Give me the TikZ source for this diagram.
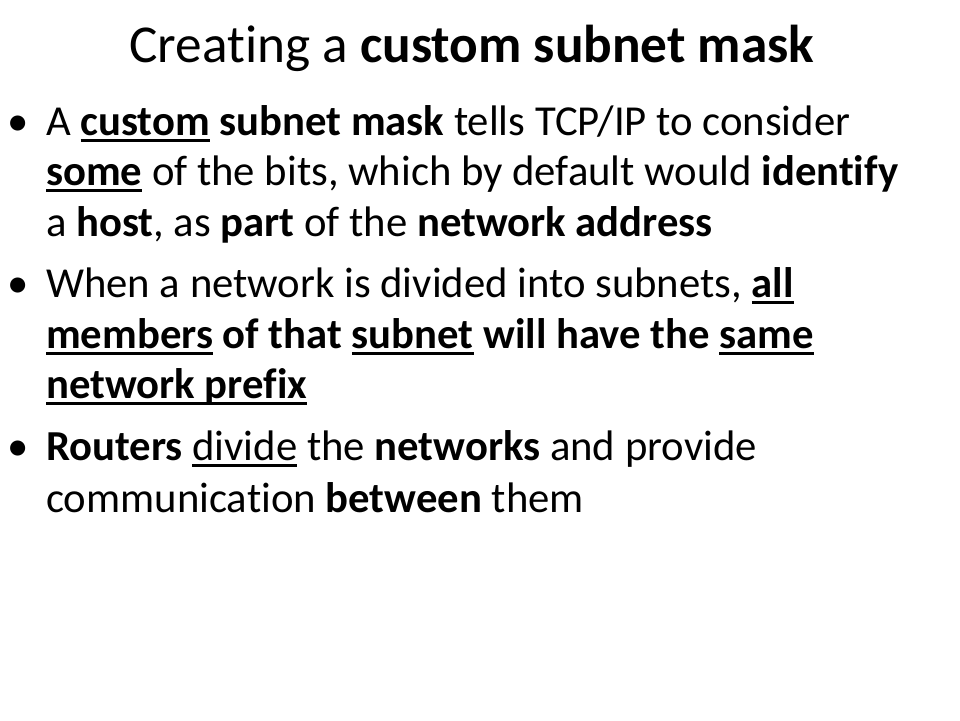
\documentclass[tikz,border=0pt]{standalone}
\usepackage{fontspec}
\setmainfont[Ligatures={NoCommon}]{Carlito}
\newcommand\myul[1]{\setbox0\hbox{#1}\rlap{\rule[-6.8pt]{\wd0}{2.8pt}}\box0\relax}
\newcommand\myulr[1]{\setbox0\hbox{#1}\rlap{\rule[-6.5pt]{\wd0}{2.2pt}}\box0\relax}
\tikzset{
  title/.style={anchor=base, inner sep=0pt, font=\fontsize{53.3}{60}\selectfont},
  line/.style={anchor=base west, inner sep=0pt, font=\fontsize{42.7}{50}\selectfont},
  bul/.style={anchor=base, inner sep=0pt, font=\fontsize{42.7}{50}\selectfont},
}
\begin{document}
\begin{tikzpicture}[x=1pt,y=-1pt]
\useasboundingbox[fill=white] (0,0) rectangle (960,720);
\node[title] (t) at (472,62) {Creating a \textbf{custom subnet mask}};
\node[bul] (b1) at (18,135) {•};
\node[line] (l1) at (46,135) {A \myul{\textbf{custom}} \textbf{subnet mask} tells TCP/IP to consider};
\node[line] (l2) at (46,185) {\myul{\textbf{some}} of the bits, which by default would \textbf{identify}};
\node[line] (l3) at (46,236) {a \textbf{host}, as \textbf{part} of the \textbf{network address}};
\node[bul] (b2) at (18,297) {•};
\node[line] (l4) at (46,297) {When a network is divided into subnets, \myul{\textbf{all}}};
\node[line] (l5) at (46,348) {\textbf{\myul{members} of that \myul{subnet} will have the \myul{same}}};
\node[line] (l6) at (46,398) {\textbf{\myul{network prefix}}};
\node[bul] (b3) at (18,460) {•};
\node[line] (l7) at (46,460) {\textbf{Routers} \myulr{divide} the \textbf{networks} and provide};
\node[line] (l8) at (46,512) {communication \textbf{between} them};
\end{tikzpicture}
\end{document}
